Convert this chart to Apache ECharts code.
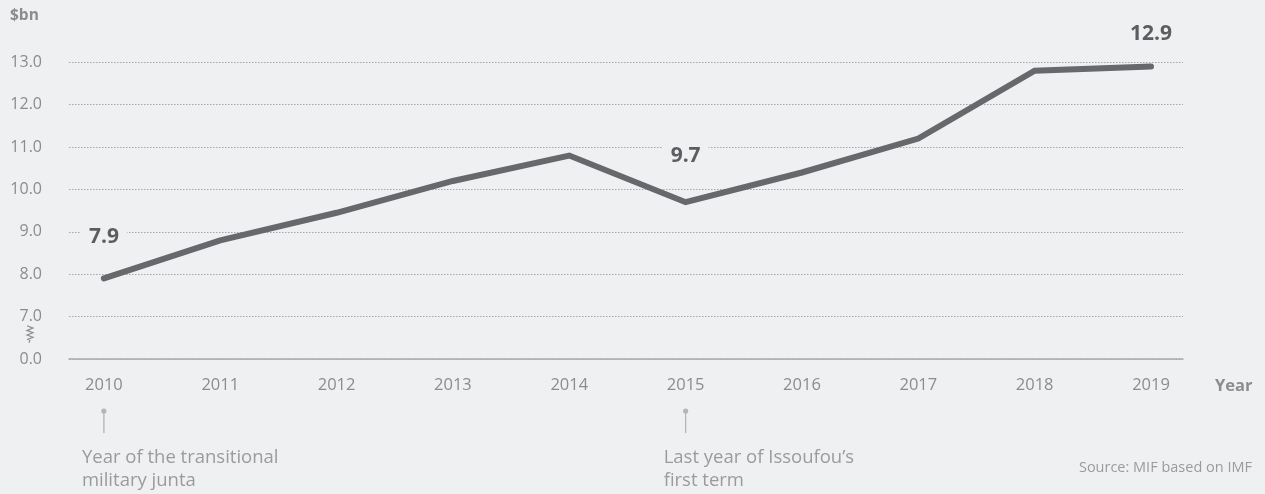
<!DOCTYPE html>
<html>
<head>
<meta charset="utf-8">
<title>Niger GDP, $bn</title>
<script src="https://cdn.jsdelivr.net/npm/echarts@6/dist/echarts.min.js"></script>
<style>
  html, body { margin: 0; padding: 0; background: #eff0f2; }
  #chart { width: 1265px; height: 494px; }
</style>
</head>
<body>
<div id="chart"></div>
<script>
// GDP in billions of US dollars, 2010-2019
const years = [2010, 2011, 2012, 2013, 2014, 2015, 2016, 2017, 2018, 2019];
const gdp = [7.9, 8.8, 9.45, 10.2, 10.8, 9.7, 10.4, 11.2, 12.8, 12.9];
// Years whose value is printed above the line
const labelledYears = [2010, 2015, 2019];
// Annotated years and their notes
const noteYears = [2010, 2015];
const noteTexts = ['Year of the transitional\nmilitary junta', 'Last year of Issoufou\u2019s\nfirst term'];
// Y tick values; the lowest tick stands for 0.0 below the axis break
const yTicks = [6, 7, 8, 9, 10, 11, 12, 13];
const yBreakLabel = '0.0';

const FONT = '"Open Sans", Lato, sans-serif';
const chart = echarts.init(document.getElementById('chart'), null, { renderer: 'canvas' });

const labelGap = { 2010: 28, 2015: 33, 2019: 20 };

const seriesData = years.map((y, i) => {
  const item = { value: [y, gdp[i]] };
  if (labelledYears.includes(y)) {
    item.label = {
      show: true,
      position: 'top',
      distance: labelGap[y],
      formatter: gdp[i].toFixed(1),
      color: '#5c5d61',
      fontFamily: FONT,
      fontWeight: 'bold',
      fontSize: 21,
      backgroundColor: '#eff0f2',
      padding: [2, 8]
    };
  }
  return item;
});

chart.setOption({
  backgroundColor: '#eff0f2',
  animation: false,
  grid: { left: 69, right: 82, top: 62.3, bottom: 135, containLabel: false },
  xAxis: {
    type: 'value',
    min: 2009.7,
    max: 2019.275,
    axisLine: { show: true, onZero: false, lineStyle: { color: '#a9aaad', width: 1.5 } },
    axisTick: { show: false },
    splitLine: { show: false },
    axisLabel: {
      customValues: years,
      formatter: v => String(Math.round(v)),
      color: '#8c8c8e',
      fontFamily: FONT,
      fontSize: 16.5,
      margin: 18
    }
  },
  yAxis: {
    type: 'value',
    min: yTicks[0],
    max: yTicks[yTicks.length - 1],
    interval: 1,
    axisLine: { show: false },
    axisTick: { show: false },
    axisLabel: {
      formatter: v => (v === yTicks[0] ? yBreakLabel : v.toFixed(1)),
      color: '#8c8c8e',
      fontFamily: FONT,
      fontSize: 16,
      margin: 27,
      padding: [0, 0, 10, 0]
    },
    splitLine: { show: true, lineStyle: { color: '#a5a6a9', type: [1.5, 1.5], width: 1 } }
  },
  series: [{
    type: 'line',
    data: seriesData,
    symbol: 'circle',
    symbolSize: 1,
    showSymbol: true,
    itemStyle: { color: 'rgba(0,0,0,0)' },
    lineStyle: { color: '#67676c', width: 6, cap: 'round', join: 'miter' },
    z: 3
  }]
});

// Titles, axis break mark and year notes, placed through the chart's scales
const graphics = [];
graphics.push({
  type: 'text', left: 10, top: 8,
  style: { text: '$bn', fill: '#8c8c8e', font: 'bold 15.5px ' + FONT }
});
const baseY = chart.convertToPixel({ gridIndex: 0 }, [years[0], yTicks[0]])[1];
graphics.push({
  type: 'text', x: 1215, y: baseY + 27,
  style: { text: 'Year', fill: '#8c8c8e', font: 'bold 16.5px ' + FONT, verticalAlign: 'middle' }
});

// Axis break mark between 0.0 and 7.0
const yHigh = chart.convertToPixel({ gridIndex: 0 }, [years[0], yTicks[1]])[1];
const mid = (baseY + yHigh) / 2 - 5;
const zig = [];
for (let k = 0; k <= 6; k++) {
  zig.push([k % 2 === 0 ? 27 : 33, mid - 7 + k * 2.3]);
}
graphics.push({
  type: 'polyline',
  shape: { points: zig },
  style: { stroke: '#8c8c8e', lineWidth: 1.2, fill: null }
});
graphics.push({
  type: 'line',
  shape: { x1: 30, y1: mid + 7, x2: 29, y2: mid + 10 },
  style: { stroke: '#8c8c8e', lineWidth: 1.2 }
});

noteYears.forEach((y, i) => {
  const px = chart.convertToPixel({ gridIndex: 0 }, [y, yTicks[0]])[0];
  graphics.push({
    type: 'line',
    shape: { x1: px, y1: 411, x2: px, y2: 433 },
    style: { stroke: '#b4b5b8', lineWidth: 1.3 }
  });
  graphics.push({
    type: 'circle',
    shape: { cx: px, cy: 411, r: 2.6 },
    style: { fill: '#b4b5b8' }
  });
  graphics.push({
    type: 'text', x: px - 22, y: 446,
    style: { text: noteTexts[i], fill: '#9b9b9e', font: '18.5px ' + FONT, lineHeight: 23 }
  });
});

graphics.push({
  type: 'text', right: 13, top: 460,
  style: { text: 'Source: MIF based on IMF', fill: '#9b9b9e', font: '14.5px ' + FONT }
});

chart.setOption({ graphic: graphics });
</script>
</body>
</html>
